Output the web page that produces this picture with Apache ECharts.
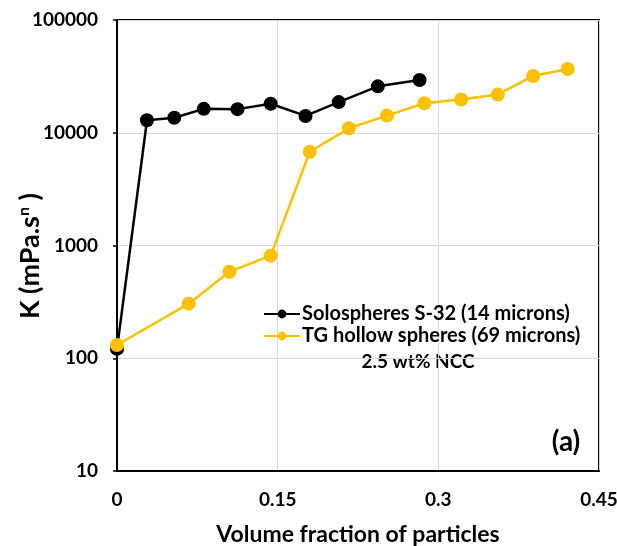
<!DOCTYPE html>
<html><head><meta charset="utf-8">
<script src="https://cdn.jsdelivr.net/npm/echarts@6/dist/echarts.min.js"></script>
<style>html,body{margin:0;padding:0;background:#fff;overflow:hidden}#c{width:617px;height:546px}</style>
</head><body><div id="c"></div>
<script>
const seriesNames = ['Solospheres S-32 (14 microns)', 'TG hollow spheres (69 microns)'];
const soloX = [0, 0.028, 0.0535, 0.081, 0.1125, 0.1435, 0.176, 0.207, 0.2435, 0.2825];
const soloK = [121, 12900, 13600, 16300, 16200, 18100, 14100, 18700, 25800, 29400];
const tgX = [0, 0.067, 0.105, 0.1435, 0.180, 0.2165, 0.252, 0.287, 0.3213, 0.3555, 0.3885, 0.4208];
const tgK = [131, 305, 585, 813, 6790, 10950, 14200, 18250, 19700, 21800, 31900, 36800];
const xTicks = [0, 0.15, 0.3, 0.45];
const yTicks = [10, 100, 1000, 10000, 100000];
const xTitle = 'Volume fraction of particles';
const noteText = '2.5 wt% NCC';
const panelText = '(a)';

const FONT = 'Lato';
const chart = echarts.init(document.getElementById('c'));
const pair = (xs, ys) => xs.map((x, i) => [x, ys[i]]);
chart.setOption({
  animation: false,
  grid: {left: 117, top: 20, width: 482, height: 451, outerBoundsMode: 'none', containLabel: false,
    show: true, borderColor: '#000', borderWidth: 2, backgroundColor: 'transparent'},
  xAxis: {
    type: 'value', min: 0, max: 0.45, interval: 0.15,
    axisLine: {show: true, lineStyle: {color: '#000', width: 2}},
    axisTick: {show: false},
    axisLabel: {margin: 19, fontFamily: FONT, fontWeight: 'bold', fontSize: 19, color: '#000',
      formatter: v => { const t = xTicks.find(t => Math.abs(t - v) < 1e-9); return t === undefined ? '' : String(t); }},
    splitLine: {show: true, lineStyle: {color: '#d9d9d9', width: 1}}
  },
  yAxis: {
    type: 'log', logBase: 10, min: yTicks[0], max: yTicks[yTicks.length - 1],
    axisLine: {show: true, lineStyle: {color: '#000', width: 2}},
    axisTick: {show: true, length: 4, lineStyle: {color: '#000', width: 1.5}},
    axisLabel: {margin: 19, fontFamily: FONT, fontWeight: 'bold', fontSize: 19, color: '#000',
      formatter: v => String(Math.round(v))},
    splitLine: {show: true, lineStyle: {color: '#d9d9d9', width: 1}}
  },
  legend: {
    left: 258, top: 299, orient: 'vertical', itemWidth: 36, itemHeight: 11, itemGap: 2,
    textStyle: {fontFamily: FONT, fontWeight: 'bold', fontSize: 20, color: '#000', padding: [0, 0, 0, -3]},
    data: seriesNames
  },
  series: [
    {name: seriesNames[0], type: 'line', data: pair(soloX, soloK), symbol: 'circle', symbolSize: 14,
     lineStyle: {color: '#000', width: 2.5}, itemStyle: {color: '#000'}, z: 2},
    {name: seriesNames[1], type: 'line', data: pair(tgX, tgK), symbol: 'circle', symbolSize: 14,
     lineStyle: {color: '#FFC000', width: 2.5}, itemStyle: {color: '#FFC000'}, z: 3}
  ],
  graphic: [
    {type: 'text', style: {text: xTitle, fontFamily: FONT, fontWeight: 'bold', fontSize: 23, fill: '#000', x: 358, y: 535, align: 'center', verticalAlign: 'middle'}},
    {type: 'text', x: 30, y: 256, rotation: Math.PI / 2,
     style: {text: '{a|K (mPa.s}{s|n}{a| )}', align: 'center', verticalAlign: 'middle',
       rich: {
         a: {fontFamily: FONT, fontWeight: 'bold', fontSize: 27, fill: '#000'},
         s: {fontFamily: FONT, fontWeight: 'bold', fontSize: 16, fill: '#000', padding: [0, 0, 13, 0]}
       }}},
    {type: 'text', style: {text: noteText, fontFamily: FONT, fontWeight: 'bold', fontSize: 19, fill: '#000', x: 418, y: 362, align: 'center', verticalAlign: 'middle'}},
    {type: 'text', style: {text: panelText, fontFamily: FONT, fontWeight: 'bold', fontSize: 28, fill: '#000', x: 566, y: 442, align: 'center', verticalAlign: 'middle'}}
  ]
});
</script></body></html>
